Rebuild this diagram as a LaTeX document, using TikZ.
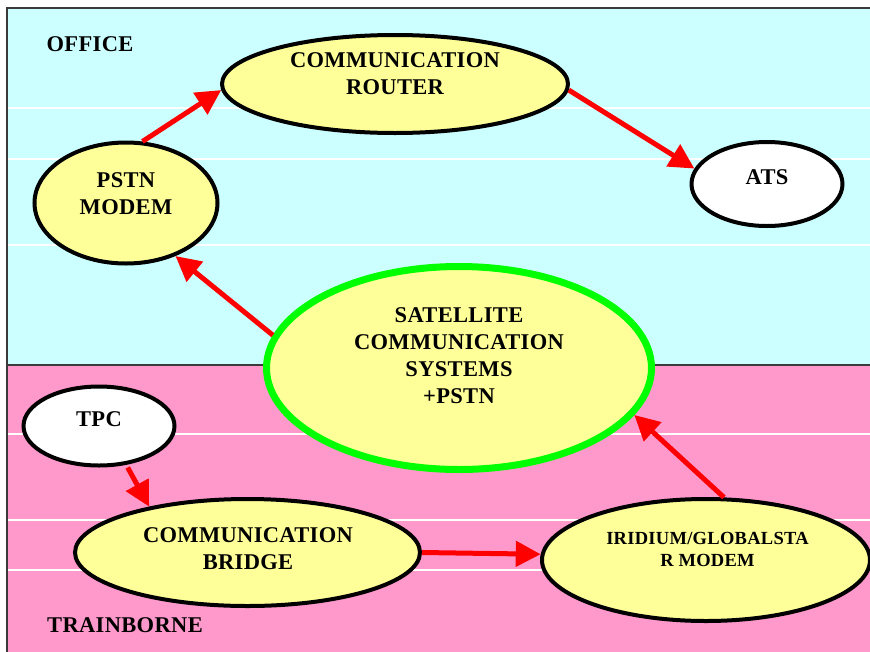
\documentclass[tikz,border=0pt]{standalone}
\usepackage{fontspec}
\setmainfont{Liberation Serif}[LetterSpace=1.5]
\usetikzlibrary{shapes.geometric,arrows.meta}
\definecolor{officebg}{HTML}{CCFFFF}
\definecolor{trainbg}{HTML}{FF99CC}
\definecolor{bubblefill}{HTML}{FFFF99}
\definecolor{satgreen}{HTML}{00FF00}
\definecolor{flowred}{HTML}{FF0000}
\definecolor{frameline}{HTML}{3A3A3A}

\begin{document}
\begin{tikzpicture}[x=1pt,y=-1pt,
  bubble/.style={ellipse, draw=black, line width=4pt, fill=bubblefill, inner sep=0pt},
  plain/.style={bubble, fill=white},
  hub/.style={bubble, draw=satgreen, line width=7pt},
  lbl/.style={align=center, inner sep=0pt, font=\bfseries\fontsize{22.5}{27}\selectfont},
  smalllbl/.style={lbl, font=\bfseries\fontsize{18.5}{22}\selectfont},
  flow/.style={draw=flowred, line width=5pt, -{Triangle[length=25pt,width=25pt]}},
  stripe/.style={draw=white, line width=1.5pt}
]
\useasboundingbox (0,0) rectangle (870,651);
\clip (0,0) rectangle (870,651);

% zones
\fill[officebg] (7,8) rectangle (875,365);
\fill[trainbg] (7,365) rectangle (875,656);
\foreach \yy in {108,159,245,434,520,570}
  \draw[stripe] (7,\yy) -- (875,\yy);
\draw[frameline, line width=1.5pt] (7,656) -- (7,8) -- (875,8);
\draw[frameline, line width=1.2pt] (7,365) -- (875,365);

\node[lbl] (office) at (90,44) {OFFICE};
\node[lbl] (trainborne) at (125,625) {TRAINBORNE};

% ellipses
\node[bubble, minimum width=346pt, minimum height=98pt] (router) at (395,84) {};
\node[bubble, minimum width=183pt, minimum height=121pt] (pstn) at (126,203) {};
\node[plain, minimum width=151pt, minimum height=84pt] (ats) at (767,184) {};
\node[hub, minimum width=385pt, minimum height=203pt] (sat) at (459,368) {};
\node[plain, minimum width=151pt, minimum height=79pt] (tpc) at (99,426) {};
\node[bubble, minimum width=345pt, minimum height=107pt] (bridge) at (247.5,552.5) {};
\node[bubble, minimum width=328pt, minimum height=122pt] (iridium) at (706,560) {};

% texts
\node[lbl] (routertxt) at (395,73.5) {COMMUNICATION\\ROUTER};
\node[lbl] (pstntxt) at (126,193.5) {PSTN\\MODEM};
\node[lbl] (atstxt) at (767,177) {ATS};
\node[lbl] (sattxt) at (459,356) {SATELLITE\\COMMUNICATION\\SYSTEMS\\+PSTN};
\node[lbl] (tpctxt) at (99,419) {TPC};
\node[lbl] (bridgetxt) at (248,548.5) {COMMUNICATION\\BRIDGE};
\node[smalllbl] (iridiumtxt) at (707.5,549) {IRIDIUM/GLOBALSTA\\R MODEM};

% connections
\draw[flow] (pstn.75) -- (router.182);
\draw[flow] (router.-2) -- (ats.168);
\draw[flow] (sat.170) -- (pstn.-47);
\draw[flow, shorten <=3pt] (tpc.-55) -- (bridge.155);
\draw[flow] (bridge.east) -- (iridium.178);
\draw[flow] (iridium.74) -- (sat.-15);
\end{tikzpicture}
\end{document}
